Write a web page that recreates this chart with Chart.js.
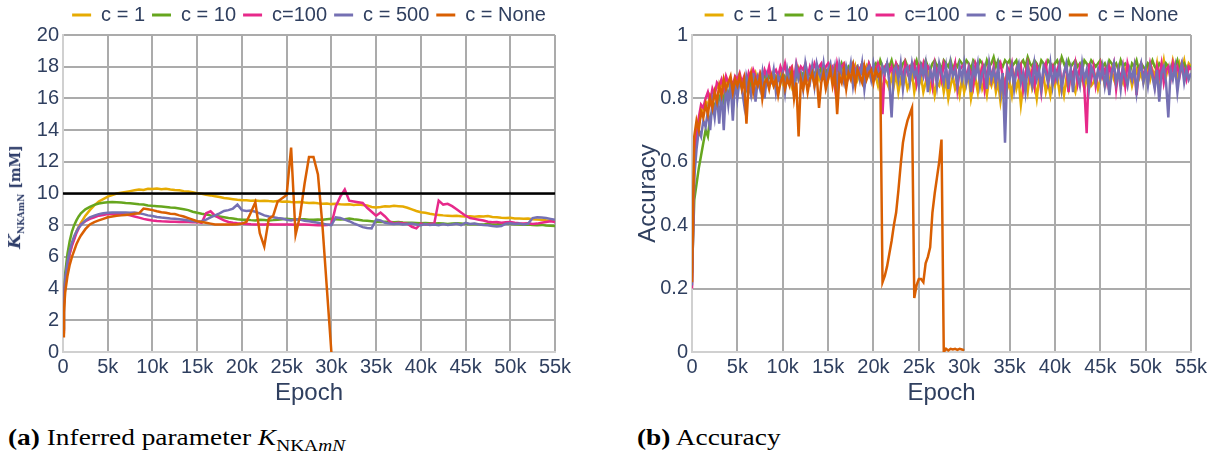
<!DOCTYPE html>
<html>
<head>
<meta charset="utf-8">
<script src="https://cdn.jsdelivr.net/npm/chart.js@4.4.1/dist/chart.umd.min.js"></script>
<style>
  body { margin: 0; background: #fff; width: 1217px; height: 451px; overflow: hidden; position: relative; }
  canvas { position: absolute; top: -2px; }
  #chartK { left: 0; }
  #chartAcc { left: 620px; }
  #kLabel {
    position: absolute; left: 15px; top: 197px;
    transform: translate(-50%, -50%) rotate(-90deg);
    white-space: nowrap; color: #2c3b68;
    font-family: "DejaVu Serif", serif; font-weight: bold; font-size: 14px;
  }
  #kLabel i { font-size: 17px; }
  #kLabel sub { font-size: 9px; }
  .caption {
    position: absolute; top: 424px; line-height: 26px; white-space: nowrap;
    font-family: "Liberation Serif", serif; font-size: 24px; color: #000;
    transform: scaleX(1.14); transform-origin: left center;
  }
  .caption sub { font-size: 17px; }
</style>
</head>
<body>
<canvas id="chartK" width="600" height="410"></canvas>
<canvas id="chartAcc" width="597" height="410"></canvas>
<div id="kLabel"><i>K</i><sub>NKAmN</sub> [mM]</div>
<div class="caption" style="left:8px"><b>(a)</b> Inferred parameter <i>K</i><sub>NKA<i>mN</i></sub></div>
<div class="caption" style="left:637px"><b>(b)</b> Accuracy</div>

<script>
// epochs for the K curves
var epochs = [0, 100, 250, 500, 750, 1000, 1250, 1500, 1750,
  2000, 2500, 3000, 3500, 4000, 4500, 5000, 5500, 6000, 6500,
  7000, 7500, 8000, 8500, 9000, 9500, 10000, 10500, 11000, 11500,
  12000, 12500, 13000, 13500, 14000, 14500, 15000, 15500, 16000, 16500,
  17000, 17500, 18000, 18500, 19000, 19500, 20000, 20500, 21000, 21500,
  22000, 22500, 23000, 23500, 24000, 24500, 25000, 25500, 26000, 26500,
  27000, 27500, 28000, 28500, 29000, 29500, 30000, 30500, 31000, 31500,
  32000, 32500, 33000, 33500, 34000, 34500, 35000, 35500, 36000, 36500,
  37000, 37500, 38000, 38500, 39000, 39500, 40000, 40500, 41000, 41500,
  42000, 42500, 43000, 43500, 44000, 44500, 45000, 45500, 46000, 46500,
  47000, 47500, 48000, 48500, 49000, 49500, 50000, 50500, 51000, 51500,
  52000, 52500, 53000, 53500, 54000, 54500, 55000];

// accuracy is logged every 250 epochs
var accStep = 250;
var accEpochs = [];
for (var e = 0; e <= 55000; e += accStep) accEpochs.push(e);

var seriesLabels = ["c = 1", "c = 10", "c=100", "c = 500", "c = None"];
var seriesColors = ["#e6ab02", "#66a61e", "#e7298a", "#7570b3", "#d95f02"];
var xTicks = [0, 5000, 10000, 15000, 20000, 25000, 30000, 35000, 40000, 45000, 50000, 55000];
var refLevel = 10;

// K_NKAmN [mM]
var kC1 = [1.2, 2.8, 4.2, 5.4, 6.2, 6.8, 7.2, 7.6, 7.9,
  8.15, 8.6, 8.95, 9.25, 9.5, 9.65, 9.8, 9.9, 10.0, 10.05,
  10.1, 10.15, 10.2, 10.25, 10.22, 10.3, 10.28, 10.32, 10.27, 10.3,
  10.25, 10.22, 10.2, 10.15, 10.12, 10.08, 10.02, 9.98, 9.92, 9.88,
  9.82, 9.78, 9.72, 9.68, 9.64, 9.6, 9.58, 9.57, 9.55, 9.56,
  9.53, 9.55, 9.52, 9.5, 9.53, 9.48, 9.5, 9.47, 9.45, 9.47,
  9.43, 9.4, 9.42, 9.38, 9.35, 9.37, 9.33, 9.35, 9.32, 9.3,
  9.32, 9.28, 9.3, 9.27, 9.25, 9.15, 9.12, 9.15, 9.2, 9.18,
  9.22, 9.2, 9.18, 9.1, 9.0, 8.9, 8.82, 8.78, 8.72, 8.68,
  8.65, 8.62, 8.6, 8.58, 8.6, 8.57, 8.55, 8.57, 8.54, 8.56,
  8.55, 8.58, 8.52, 8.5, 8.47, 8.45, 8.47, 8.43, 8.42, 8.4,
  8.42, 8.38, 8.36, 8.35, 8.32, 8.3, 8.28];
var kC10 = [1.5, 3.3, 5.0, 6.2, 7.0, 7.6, 8.0, 8.3, 8.55,
  8.75, 9.0, 9.15, 9.28, 9.37, 9.42, 9.45, 9.46, 9.45, 9.43,
  9.4, 9.38, 9.35, 9.32, 9.3, 9.25, 9.22, 9.2, 9.18, 9.15,
  9.12, 9.1, 9.05, 9.0, 8.95, 8.85, 8.78, 8.72, 8.68, 8.62,
  8.58, 8.55, 8.5, 8.45, 8.42, 8.38, 8.35, 8.35, 8.32, 8.3,
  8.35, 8.33, 8.3, 8.32, 8.35, 8.37, 8.4, 8.38, 8.36, 8.38,
  8.37, 8.35, 8.34, 8.36, 8.35, 8.38, 8.4, 8.38, 8.36, 8.38,
  8.42, 8.38, 8.35, 8.3, 8.28, 8.25, 8.22, 8.2, 8.22, 8.2,
  8.18, 8.2, 8.17, 8.15, 8.16, 8.14, 8.12, 8.14, 8.12, 8.1,
  8.12, 8.1, 8.08, 8.1, 8.12, 8.1, 8.08, 8.06, 8.08, 8.06,
  8.05, 8.07, 8.05, 8.06, 8.08, 8.1, 8.08, 8.06, 8.05, 8.03,
  8.05, 8.02, 8.0, 8.02, 7.98, 7.97, 7.95];
var kC100 = [1.3, 3.0, 4.5, 5.5, 6.2, 6.7, 7.1, 7.5, 7.8,
  8.05, 8.25, 8.4, 8.5, 8.6, 8.65, 8.7, 8.7, 8.72, 8.7,
  8.68, 8.62, 8.55, 8.48, 8.4, 8.35, 8.3, 8.27, 8.25, 8.24,
  8.22, 8.22, 8.2, 8.22, 8.2, 8.18, 8.2, 8.15, 8.75, 8.88,
  8.6, 8.45, 8.3, 8.2, 8.15, 8.12, 8.1, 8.08, 8.06, 8.05,
  8.05, 8.04, 8.06, 8.05, 8.04, 8.05, 8.05, 8.04, 8.03, 8.05,
  8.04, 8.03, 8.02, 8.0, 8.0, 8.01, 8.05, 9.2, 9.8, 10.25,
  9.55, 9.5, 9.45, 9.4, 9.1, 8.85, 8.6, 8.8, 8.55, 8.25,
  8.1, 8.15, 8.12, 8.1, 7.9, 7.8, 8.1, 8.05, 8.08, 8.1,
  9.55, 9.3, 9.35, 9.2, 9.0, 8.8, 8.6, 8.45, 8.4, 8.35,
  8.3, 8.22, 8.18, 8.2, 8.15, 8.18, 8.2, 8.15, 8.12, 8.1,
  8.12, 8.08, 8.1, 8.15, 8.2, 8.25, 8.2];
var kC500 = [1.4, 3.2, 4.7, 5.7, 6.4, 6.9, 7.3, 7.6, 7.85,
  8.0, 8.3, 8.5, 8.6, 8.7, 8.75, 8.78, 8.8, 8.8, 8.8,
  8.8, 8.78, 8.8, 8.75, 8.7, 8.62, 8.58, 8.52, 8.48, 8.45,
  8.42, 8.4, 8.38, 8.35, 8.3, 8.25, 8.22, 8.25, 8.35, 8.5,
  8.62, 8.75, 8.9, 8.95, 9.05, 9.3, 8.95, 8.9, 8.92, 8.85,
  8.75, 8.62, 8.55, 8.5, 8.45, 8.42, 8.35, 8.3, 8.38, 8.35,
  8.28, 8.25, 8.2, 8.15, 8.1, 8.05, 8.0, 8.5, 8.45, 8.35,
  8.25, 8.12, 8.0, 7.88, 7.82, 7.8, 8.35, 8.3, 8.15, 8.1,
  8.08, 8.1, 8.05, 8.08, 8.1, 8.05, 8.0, 8.08, 8.02, 8.05,
  8.0, 8.08, 8.02, 8.05, 8.1, 8.0, 8.15, 8.08, 8.1, 8.05,
  8.02, 8.0, 7.95, 7.92, 7.95, 8.1, 8.12, 8.08, 8.1, 8.05,
  8.1, 8.45, 8.5, 8.48, 8.45, 8.4, 8.35];
var kNone = [1.0, 2.5, 3.8, 4.8, 5.5, 6.0, 6.4, 6.8, 7.1,
  7.35, 7.75, 8.05, 8.2, 8.3, 8.4, 8.5, 8.55, 8.6, 8.62,
  8.65, 8.68, 8.72, 8.75, 9.05, 9.0, 8.95, 8.88, 8.82, 8.78,
  8.72, 8.7, 8.62, 8.55, 8.45, 8.35, 8.25, 8.2, 8.15, 8.1,
  8.05, 8.05, 8.05, 8.04, 8.05, 8.06, 8.1, 8.2, 8.8, 9.45,
  7.5, 6.65, 8.4, 8.6, 9.5, 9.7, 9.9, 12.9, 7.4, 8.6,
  10.6, 12.3, 12.3, 11.2, 8.0, 4.0, 0];

// accuracy in percent, one row = 5k epochs
var accC1 = [22, 62, 70, 72, 75, 77, 79, 78, 81, 80, 82, 84, 83, 85, 82, 86, 84, 85, 83, 86,
  85, 87, 84, 86, 85, 87, 83, 86, 88, 85, 86, 84, 87, 85, 88, 86, 84, 87, 86, 88,
  85, 87, 86, 88, 84, 87, 86, 89, 85, 87, 88, 86, 89, 87, 85, 88, 86, 89, 87, 88,
  86, 89, 87, 88, 85, 89, 87, 90, 86, 88, 89, 87, 90, 86, 88, 89, 87, 90, 88, 86,
  89, 87, 84, 88, 82, 86, 85, 83, 87, 84, 88, 82, 86, 84, 87, 83, 85, 88, 82, 86,
  84, 87, 82, 85, 88, 83, 86, 81, 85, 84, 87, 82, 86, 80, 84, 87, 83, 85, 81, 86,
  82, 85, 87, 80, 84, 86, 82, 88, 83, 85, 81, 86, 84, 87, 82, 85, 79, 84, 86, 83,
  85, 81, 87, 83, 86, 78, 84, 86, 82, 88, 83, 85, 80, 86, 84, 87, 82, 85, 81, 86,
  84, 87, 82, 85, 81, 86, 83, 88, 84, 82, 86, 85, 87, 83, 86, 88, 84, 85, 87, 83,
  86, 88, 84, 87, 85, 89, 86, 84, 88, 87, 85, 89, 86, 88, 84, 87, 89, 86, 88, 85,
  88, 90, 86, 89, 87, 91, 85, 88, 92, 87, 90, 88, 92, 89, 86, 91, 89, 92, 88, 91,
  90];
var accC10 = [25, 48, 53, 58, 62, 66, 70, 68, 74, 76, 78, 77, 80, 82, 79, 83, 81, 84, 82, 85,
  83, 86, 84, 85, 83, 87, 84, 86, 85, 87, 84, 86, 88, 85, 87, 86, 88, 85, 87, 86,
  88, 86, 87, 89, 86, 88, 87, 89, 86, 88, 89, 87, 88, 90, 87, 89, 88, 90, 87, 89,
  88, 90, 89, 87, 90, 88, 91, 89, 88, 90, 89, 91, 88, 90, 89, 91, 90, 88, 91, 89,
  90, 91, 89, 92, 90, 88, 91, 90, 92, 89, 91, 90, 89, 91, 92, 90, 89, 91, 90, 92,
  89, 91, 90, 92, 90, 89, 91, 92, 90, 91, 89, 92, 91, 90, 92, 89, 91, 90, 92, 91,
  90, 92, 91, 89, 92, 91, 90, 92, 91, 89, 92, 90, 91, 93, 90, 92, 91, 90, 92, 91,
  92, 90, 91, 92, 89, 91, 92, 90, 93, 91, 90, 92, 91, 89, 92, 91, 90, 92, 91, 90,
  91, 92, 90, 93, 91, 89, 92, 90, 91, 92, 90, 91, 89, 92, 91, 90, 92, 91, 90, 91,
  92, 90, 91, 89, 92, 91, 90, 91, 89, 92, 90, 91, 90, 88, 91, 90, 92, 89, 91, 90,
  89, 91, 90, 92, 90, 89, 91, 90, 88, 91, 90, 89, 91, 90, 92, 89, 90, 91, 89, 90,
  90];
var accC100 = [20, 58, 68, 74, 78, 77, 80, 82, 79, 83, 81, 85, 84, 86, 83, 87, 85, 86, 84, 87,
  86, 88, 85, 87, 84, 88, 86, 89, 87, 85, 88, 86, 89, 87, 90, 86, 88, 89, 87, 90,
  88, 91, 87, 89, 90, 86, 91, 88, 90, 89, 91, 87, 90, 88, 91, 89, 90, 91, 88, 90,
  91, 89, 90, 84, 91, 88, 90, 91, 89, 87, 90, 91, 88, 90, 89, 91, 90, 88, 91, 89,
  90, 88, 91, 89, 75, 90, 91, 88, 90, 87, 91, 89, 90, 86, 91, 88, 90, 89, 91, 85,
  90, 88, 91, 87, 90, 89, 84, 91, 88, 90, 86, 91, 89, 85, 90, 88, 91, 83, 89, 90,
  91, 86, 90, 88, 84, 91, 89, 87, 90, 83, 88, 91, 86, 90, 85, 89, 91, 87, 82, 90,
  88, 91, 85, 89, 87, 90, 83, 88, 91, 86, 89, 84, 90, 88, 82, 89, 91, 85, 88, 90,
  86, 89, 91, 84, 88, 90, 82, 89, 87, 91, 85, 90, 88, 83, 69, 91, 86, 90, 84, 88,
  91, 87, 89, 85, 90, 88, 91, 83, 89, 86, 90, 84, 91, 88, 86, 90, 81, 89, 91, 87,
  89, 86, 91, 88, 84, 90, 87, 91, 85, 89, 90, 86, 91, 88, 90, 87, 91, 89, 86, 90,
  89];
var accC500 = [21, 55, 64, 70, 68, 73, 71, 76, 70, 79, 74, 81, 72, 83, 70, 84, 78, 85, 73, 86,
  80, 86, 83, 78, 87, 84, 81, 88, 79, 86, 83, 88, 80, 87, 84, 85, 89, 82, 87, 85,
  88, 82, 89, 85, 87, 81, 90, 86, 88, 83, 91, 87, 85, 90, 84, 91, 88, 86, 91, 85,
  89, 91, 86, 90, 84, 91, 88, 85, 90, 87, 91, 84, 89, 90, 86, 91, 83, 89, 90, 86,
  91, 87, 89, 84, 90, 88, 91, 85, 74, 89, 90, 86, 91, 83, 89, 90, 85, 91, 87, 89,
  84, 90, 87, 91, 82, 89, 86, 90, 84, 91, 88, 85, 90, 83, 91, 87, 89, 84, 90, 86,
  91, 85, 89, 82, 90, 87, 91, 84, 88, 90, 83, 91, 86, 89, 85, 90, 82, 88, 66, 89,
  86, 90, 83, 89, 91, 85, 88, 82, 90, 87, 84, 91, 86, 89, 83, 90, 88, 85, 91, 84,
  89, 86, 90, 83, 88, 91, 85, 89, 82, 90, 87, 84, 91, 86, 89, 83, 90, 88, 85, 89,
  86, 90, 84, 89, 81, 88, 91, 85, 89, 83, 90, 87, 84, 89, 86, 90, 82, 88, 91, 85,
  89, 84, 90, 87, 83, 89, 79, 88, 90, 85, 74, 89, 86, 90, 82, 88, 91, 85, 89, 86,
  88];
var accNone = [22, 68, 73, 70, 76, 74, 78, 75, 80, 77, 82, 79, 84, 81, 86, 83, 85, 87, 82, 86,
  84, 87, 83, 86, 72, 85, 88, 82, 86, 84, 87, 80, 85, 86, 83, 87, 84, 86, 81, 85,
  87, 83, 86, 84, 88, 80, 85, 68, 86, 83, 87, 82, 86, 88, 84, 87, 77, 85, 88, 83,
  86, 89, 84, 88, 75, 87, 85, 89, 83, 88, 86, 90, 84, 89, 87, 85, 90, 86, 88, 89,
  85, 89, 87, 88, 22, 24, 27, 31, 35, 40, 44, 51, 59, 66, 70, 73, 75, 77, 17, 21,
  23, 23, 22, 28, 30, 33, 44, 50, 55, 60, 67, 0, 1, 0.5, 1, 0.8, 1, 0.7, 1, 0.8,
  0.6];

var textColor = "#2f3f5f";
var gridColor = "#ababab";
var sans = "'Liberation Sans', Arial, sans-serif";

function toPoints(xs, ys) {
  return ys.map(function (y, i) { return { x: xs[i], y: y }; });
}

function makeSeries(xs, arrays) {
  return arrays.map(function (ys, i) {
    return {
      label: seriesLabels[i],
      data: toPoints(xs, ys),
      borderColor: seriesColors[i],
      backgroundColor: seriesColors[i],
      borderWidth: 2.5,
      pointRadius: 0,
      tension: 0,
      order: 5 - i
    };
  });
}

function baseOptions(yOpts, yWidth, rightPad, yTitle) {
  return {
    responsive: false,
    animation: false,
    events: [],
    layout: { padding: { left: 0, right: rightPad, top: 0, bottom: 0 } },
    plugins: {
      tooltip: { enabled: false },
      legend: {
        position: "top",
        fullSize: false,
        labels: {
          color: textColor,
          font: { family: sans, size: 20 },
          boxWidth: 19,
          boxHeight: 3,
          padding: 7,
          sort: function (a, b) { return a.datasetIndex - b.datasetIndex; },
          filter: function (item) { return item.text !== "ref"; },
          generateLabels: function (chart) {
            var items = Chart.defaults.plugins.legend.labels.generateLabels(chart);
            items.forEach(function (it) { it.lineWidth = 0; it.fillStyle = it.strokeStyle; });
            return items;
          }
        }
      }
    },
    scales: {
      x: {
        type: "linear",
        min: 0,
        max: 55000,
        afterBuildTicks: function (scale) {
          scale.ticks = xTicks.map(function (v) { return { value: v }; });
        },
        afterFit: function (scale) { scale.height = 56; },
        grid: { color: gridColor, lineWidth: 2, drawTicks: false },
        border: { color: "#d0d0d0", width: 2 },
        ticks: {
          color: textColor,
          font: { family: sans, size: 20 },
          padding: 3,
          maxRotation: 0,
          autoSkip: false,
          callback: function (v) { return v === 0 ? "0" : (v / 1000) + "k"; }
        },
        title: {
          display: true,
          text: "Epoch",
          color: textColor,
          font: { family: sans, size: 24 },
          padding: { top: 0, bottom: 0 }
        }
      },
      y: {
        min: yOpts.min,
        max: yOpts.max,
        afterFit: function (scale) { scale.width = yWidth; },
        grid: { color: gridColor, lineWidth: 2, drawTicks: false },
        border: { color: "#d0d0d0", width: 2 },
        ticks: {
          color: textColor,
          font: { family: sans, size: 20 },
          padding: 4,
          stepSize: yOpts.step,
          callback: yOpts.label
        },
        title: yTitle
      }
    }
  };
}

var kSets = makeSeries(epochs, [kC1, kC10, kC100, kC500, kNone]);
kSets.push({
  label: "ref",
  data: [{ x: 0, y: refLevel }, { x: 55000, y: refLevel }],
  borderColor: "#000000",
  borderWidth: 2.5,
  pointRadius: 0,
  order: 0
});

new Chart(document.getElementById("chartK"), {
  type: "line",
  data: { datasets: kSets },
  options: baseOptions({ min: 0, max: 20, step: 2, label: function (v) { return String(v); } }, 63, 45, { display: false })
});

new Chart(document.getElementById("chartAcc"), {
  type: "line",
  data: { datasets: makeSeries(accEpochs, [accC1, accC10, accC100, accC500, accNone]) },
  options: baseOptions({ min: 0, max: 100, step: 20, label: function (v) { return String(v / 100); } }, 72, 26, {
    display: true,
    text: "Accuracy",
    color: textColor,
    font: { family: sans, size: 24 },
    padding: { top: 14, bottom: 0 }
  })
});
</script>
</body>
</html>
